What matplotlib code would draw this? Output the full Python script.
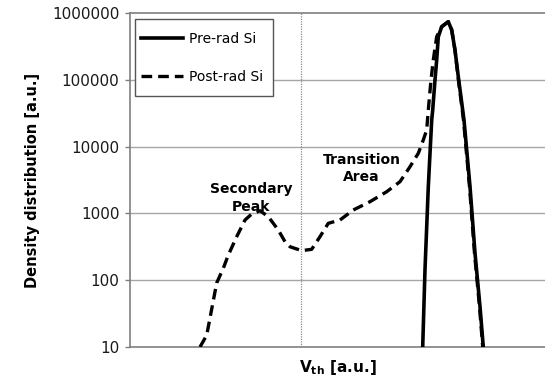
import matplotlib
matplotlib.use("Agg")
import matplotlib.pyplot as plt
from matplotlib.lines import Line2D
from matplotlib.patches import Rectangle

# Threshold-voltage axis in arbitrary units (0..100)
post_x = [16.87, 18.48, 20.89, 22.48, 23.69, 25.71, 27.71, 29.33, 31.33,
          33.33, 35.73, 37.35, 38.55, 41.37, 43.78, 45.78, 47.78, 50.60,
          53.81, 57.83, 61.86, 65.06, 67.47, 69.47, 70.67, 71.49, 71.88,
          72.53, 73.08, 73.90, 75.11, 76.70, 77.52, 78.31, 79.04, 80.36,
          81.81, 83.01, 84.22, 84.99]
post_y = [10, 15, 91, 151, 238, 448, 796, 980, 1097,
          893, 564, 377, 317, 277, 290, 448, 711, 796,
          1125, 1497, 2113, 2985, 5000, 7940, 12560, 17700, 35300,
          99300, 198000, 442000, 624000, 741000, 557000, 279000, 111000, 25000,
          2510, 255, 40, 10]

pre_x = [70.53, 71.08, 71.88, 72.70, 72.94, 73.49, 73.90, 74.29, 75.11,
         76.70, 77.52, 78.31, 79.11, 80.48, 81.93, 83.13, 84.34, 85.13]
pre_y = [10, 142, 2510, 25000, 35300, 99300, 198000, 442000, 624000,
         741000, 557000, 279000, 111000, 25000, 2510, 255, 40, 10]

divider_x = 41.1
yticks = [10, 100, 1000, 10000, 100000, 1000000]
ytick_labels = ["10", "100", "1000", "10000", "100000", "1000000"]
series_names = ["Pre-rad Si", "Post-rad Si"]

W, H = 545, 382
fig = plt.figure(figsize=(W / 100, H / 100), dpi=100)
ax = fig.add_axes([130 / W, (H - 347) / H, 415 / W, 334 / H])

ax.set_yscale("log")
ax.set_ylim(10, 1000000)
ax.set_xlim(0, 100)

grid_c = "#a6a6a6"
for v in yticks[1:-1]:
    ax.axhline(v, color=grid_c, lw=1.0, zorder=1)
ax.axvline(divider_x, color="#8c8c8c", lw=0.9, ls=(0, (1, 1)), zorder=1)

dash = (0, (3.2, 1.8))
ax.plot(pre_x, pre_y, color="black", lw=2.6, solid_joinstyle="round", zorder=3)
ax.plot(post_x, post_y, color="black", lw=2.4, ls=dash,
        dash_capstyle="butt", zorder=4)

ax.spines["right"].set_visible(False)
for side in ["left", "bottom", "top"]:
    ax.spines[side].set_color("#7f7f7f")
    ax.spines[side].set_linewidth(1.2)

ax.set_yticks(yticks)
ax.set_yticklabels(ytick_labels)
ax.yaxis.set_minor_locator(matplotlib.ticker.NullLocator())
ax.tick_params(axis="y", which="major", length=3.6, width=1.0,
               color="#7f7f7f", labelsize=11, pad=4, labelcolor="#1a1a1a")
ax.set_xticks([])

ax.set_ylabel("Density distribution [a.u.]", fontsize=10.5, fontweight="bold",
              labelpad=9)
ax.set_xlabel(r"$\mathbf{V_{th}}$ [a.u.]", fontsize=11, fontweight="bold",
              labelpad=8)

ax.text(29.1, 1700, "Secondary\nPeak", ha="center", va="center",
        fontsize=10, fontweight="bold", linespacing=1.3)
ax.text(55.8, 4700, "Transition\nArea", ha="center", va="center",
        fontsize=10, fontweight="bold", linespacing=1.3)

# Legend box drawn separately so its padding can be set per side
ax.add_patch(Rectangle((5 / 415, (347 - 95.7) / 334), (272.7 - 135) / 415,
                       (95.7 - 19) / 334, transform=ax.transAxes,
                       facecolor="white", edgecolor="#555555", lw=1.0,
                       zorder=5))
handles = [Line2D([], [], color="black", lw=2.6),
           Line2D([], [], color="black", lw=2.4, ls=dash)]
leg = ax.legend(handles, series_names, loc="upper left",
                bbox_to_anchor=((140.7 - 130) / 415, (347 - 32) / 334),
                fontsize=10, frameon=False, handlelength=3.05,
                handletextpad=0.4, labelspacing=1.75, borderpad=0,
                borderaxespad=0)
leg.set_zorder(6)

fig.savefig("out.png", dpi=100)
